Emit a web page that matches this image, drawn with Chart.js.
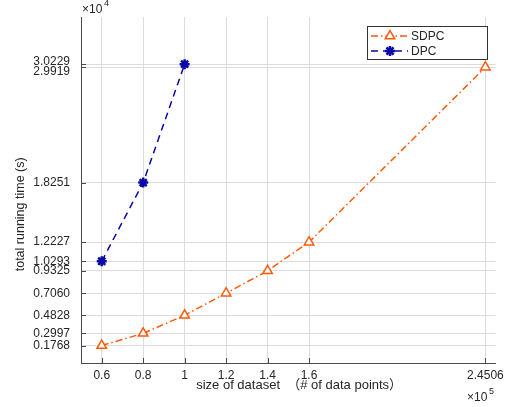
<!DOCTYPE html>
<html>
<head>
<meta charset="utf-8">
<script src="https://cdn.jsdelivr.net/npm/chart.js@4/dist/chart.umd.min.js"></script>
<style>
  html, body { margin: 0; padding: 0; background: #fff; }
</style>
</head>
<body>
<canvas id="chart" width="509" height="407"></canvas>
<script>
// x в единицах 1e5, y в единицах 1e4
const sdpcX = [0.6, 0.8, 1, 1.2, 1.4, 1.6, 2.4506];
const sdpcY = [0.1768, 0.2997, 0.4828, 0.7060, 0.9325, 1.2227, 2.9919];
const dpcX = [0.6, 0.8, 1];
const dpcY = [1.0293, 1.8251, 3.0229];
const xTicks = [0.6, 0.8, 1, 1.2, 1.4, 1.6, 2.4506];
const xTickLabels = ['0.6', '0.8', '1', '1.2', '1.4', '1.6', '2.4506'];
const yTicks = [0.1768, 0.2997, 0.4828, 0.7060, 0.9325, 1.0293, 1.2227, 1.8251, 2.9919, 3.0229];
const yTickLabels = ['0.1768', '0.2997', '0.4828', '0.7060', '0.9325', '1.0293', '1.2227', '1.8251', '2.9919', '3.0229'];

const FONT = "'Liberation Sans', Arial, 'Noto Sans CJK SC', sans-serif";
const orange = '#ff5a0a';
const blue = '#0a0aa8';
const axisColor = '#4a4a4a';

// легенда и множители осей рисуем сами, в стиле MATLAB
const extras = {
  id: 'extras',
  afterDraw(chart) {
    const ctx = chart.ctx;
    const xs = chart.scales.x, ys = chart.scales.y;
    const a = chart.chartArea;
    ctx.save();
    // короткие засечки внутрь
    ctx.strokeStyle = axisColor;
    ctx.lineWidth = 1;
    ctx.beginPath();
    yTicks.forEach(v => {
      const y = Math.round(ys.getPixelForValue(v)) + 0.5;
      ctx.moveTo(a.left, y); ctx.lineTo(a.left + 5, y);
    });
    xTicks.forEach(v => {
      const x = Math.round(xs.getPixelForValue(v)) + 0.5;
      ctx.moveTo(x, a.bottom); ctx.lineTo(x, a.bottom - 5);
    });
    ctx.stroke();

    // множители
    ctx.fillStyle = '#262626';
    ctx.textBaseline = 'middle';
    ctx.textAlign = 'left';
    ctx.font = '12px ' + FONT;
    ctx.fillText('\u00d710', 82, 10);
    ctx.fillText('\u00d710', 467, 398);
    ctx.font = '9px ' + FONT;
    ctx.fillText('4', 104, 4);
    ctx.fillText('5', 489, 392);

    // легенда
    const lx = 367.5, ly = 26.5, lw = 120, lh = 33;
    ctx.fillStyle = '#fff';
    ctx.fillRect(lx, ly, lw, lh);
    ctx.strokeStyle = '#333';
    ctx.strokeRect(lx, ly, lw, lh);
    chart.data.datasets.forEach((ds, i) => {
      const y = ly + 9.5 + i * 15;
      ctx.strokeStyle = ds.borderColor;
      ctx.lineWidth = 1.5;
      ctx.setLineDash(ds.borderDash);
      ctx.beginPath();
      ctx.moveTo(371, y); ctx.lineTo(408, y);
      ctx.stroke();
      ctx.setLineDash([]);
      ctx.fillStyle = ds.pointBackgroundColor;
      ctx.strokeStyle = ds.borderColor;
      ctx.lineWidth = ds.pointBorderWidth;
      Chart.helpers.drawPoint(ctx, {
        pointStyle: ds.pointStyle, radius: ds.pointRadius, borderWidth: ds.pointBorderWidth
      }, 390, y);
      ctx.fillStyle = '#262626';
      ctx.font = '12px ' + FONT;
      ctx.textAlign = 'left';
      ctx.fillText(ds.label, 411, y + 0.5);
    });
    ctx.restore();
  }
};

const ctx = document.getElementById('chart').getContext('2d');
const chart = new Chart(ctx, {
  type: 'line',
  data: {
    datasets: [
      {
        label: 'SDPC',
        data: sdpcX.map((x, i) => ({ x: x, y: sdpcY[i] })),
        borderColor: orange,
        borderWidth: 1.5,
        borderDash: [7, 3, 1.5, 3],
        pointStyle: 'triangle',
        pointRadius: 5.5,
        pointBorderWidth: 1.5,
        pointBackgroundColor: '#fff',
        pointBorderColor: orange,
        tension: 0
      },
      {
        label: 'DPC',
        data: dpcX.map((x, i) => ({ x: x, y: dpcY[i] })),
        borderColor: blue,
        borderWidth: 1.5,
        borderDash: [7, 5],
        pointStyle: 'star',
        pointRadius: 5,
        pointBorderWidth: 2.5,
        pointBackgroundColor: blue,
        pointBorderColor: blue,
        tension: 0
      }
    ]
  },
  options: {
    responsive: false,
    animation: false,
    layout: { padding: { left: 0, right: 11, top: 17, bottom: 0 } },
    plugins: { legend: { display: false }, tooltip: { enabled: false } },
    scales: {
      x: {
        type: 'linear',
        min: 0.5,
        max: 2.5,
        afterBuildTicks: s => { s.ticks = xTicks.map(v => ({ value: v })); },
        afterFit: s => { s.height = 44; },
        ticks: {
          autoSkip: false,
          maxRotation: 0,
          padding: 5,
          color: '#262626',
          font: { family: FONT, size: 12 },
          callback: (v, i) => xTickLabels[i]
        },
        grid: { color: '#dcdcdc', drawTicks: false },
        border: { color: axisColor, width: 1 },
        title: {
          display: true,
          // ведущие неразрывные пробелы сдвигают подпись вправо
          text: '\u00a0'.repeat(6) + 'size of dataset \u00a0（# of data points）',
          color: '#262626',
          font: { family: FONT, size: 13 },
          padding: { top: 0, bottom: 14 }
        }
      },
      y: {
        type: 'linear',
        min: 0,
        max: 3.5,
        afterBuildTicks: s => { s.ticks = yTicks.map(v => ({ value: v })); },
        afterFit: s => { s.width = 81; },
        ticks: {
          autoSkip: false,
          padding: 11,
          color: '#262626',
          font: c => ({ family: FONT, size: 12, lineHeight: c.index === 8 ? '8px' : (c.index === 9 ? '4px' : 1.2) }),
          callback: (v, i) => i === 8 ? ['', yTickLabels[i]] : (i === 9 ? [yTickLabels[i], ''] : yTickLabels[i])
        },
        grid: { color: '#dcdcdc', drawTicks: false },
        border: { color: axisColor, width: 1 },
        title: {
          display: true,
          // неразрывные пробелы сдвигают подпись вниз, как в оригинале
          text: 'total running time (s)' + '\u00a0'.repeat(14),
          color: '#262626',
          font: { family: FONT, size: 12.5 },
          padding: { top: 13, bottom: 0 }
        }
      }
    }
  },
  plugins: [extras]
});
</script>
</body>
</html>
